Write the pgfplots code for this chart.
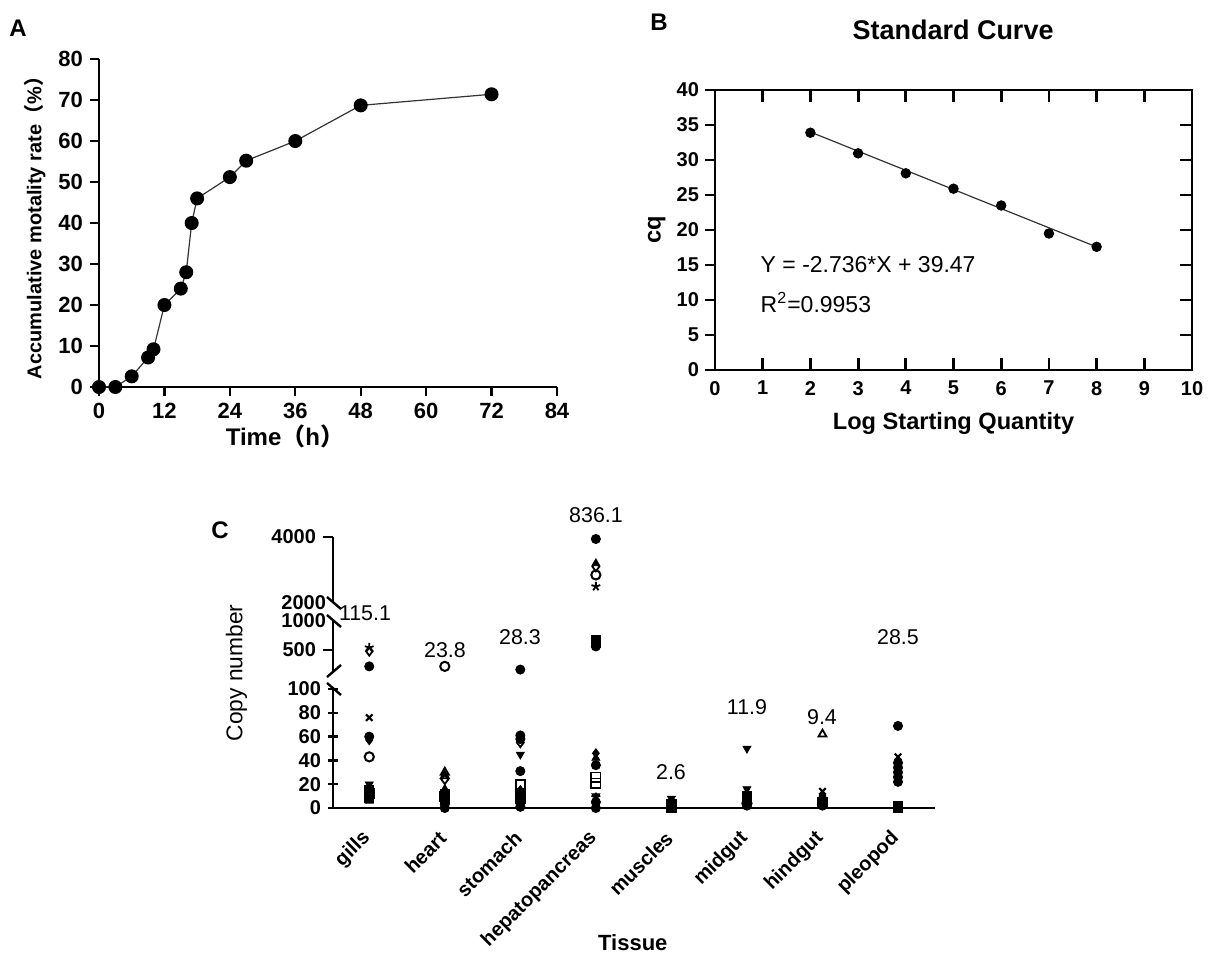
\documentclass[border=0pt]{standalone}
\usepackage{fontspec}
\setmainfont{Liberation Sans}
\newfontfamily\cjk{Noto Sans CJK SC}
\usepackage{pgfplots}
\usepackage{pgfplotstable}
\pgfplotsset{compat=1.18}

% panel C data, one table per marker kind (x = tissue index)
\pgfplotstableread{
x y
0 215
0 60
1 3
1 0
2 160
2 61
2 58
2 31
2 1
3 3940
3 560
3 36
3 5
3 0
4 1
5 2
6 2
7 69
7 38
7 34
7 30
7 26
7 22
}\tFC
\pgfplotstableread{
x y
0 15
0 9
1 12
1 8
2 12
2 8
3 680
3 620
4 3
4 0
5 10
5 6
6 5
7 2
7 0
}\tFS
\pgfplotstableread{
x y
0 6
1 16
2 5
3 3200
3 42
4 5
5 12
6 8
}\tTU
\pgfplotstableread{
x y
0 20
2 45
3 10
4 8
5 50
5 16
7 36
}\tTD
\pgfplotstableread{
x y
0 57
1 14
2 15
3 46
4 2
6 10
7 32
}\tDI
\pgfplotstableread{
x y
0 43
1 215
3 2850
5 4
}\tOC
\pgfplotstableread{
x y
0 12
1 10
2 20
3 26
3 21
}\tOS
\pgfplotstableread{
x y
1 30
1 27
2 10
6 62
}\tOT
\pgfplotstableread{
x y
0 480
1 24
2 55
3 3100
}\tOD
\pgfplotstableread{
x y
0 76
3 2
6 14
7 43
}\tXX
\pgfplotstableread{
x y
0 540
3 2500
3 9
}\tST

\newcommand\cplots{%
  \addplot[only marks, mark=*] table {\tFC};
  \addplot[only marks, mark=square*] table {\tFS};
  \addplot[only marks, mark=triangle*] table {\tTU};
  \addplot[only marks, mark=triangle*, mark options={rotate=180}] table {\tTD};
  \addplot[only marks, mark=diamond*] table {\tDI};
  \addplot[only marks, mark=o, mark options={line width=1pt}] table {\tOC};
  \addplot[only marks, mark=square, mark options={line width=0.9pt}] table {\tOS};
  \addplot[only marks, mark=triangle, mark options={line width=0.9pt}] table {\tOT};
  \addplot[only marks, mark=diamond, mark options={line width=0.9pt}] table {\tOD};
  \addplot[only marks, mark=x, mark options={line width=1.1pt}] table {\tXX};
  \addplot[only marks, mark=star, mark options={line width=0.9pt}] table {\tST};
}

\pgfplotsset{
  cseg/.style={
    scale only axis, width=301pt, xmin=-0.48, xmax=7.49,
    clip=false,
    tick style={line width=1.2pt, black}, major tick length=5pt,
    tick align=outside,
    tick label style={font=\fontsize{10}{12}\selectfont\bfseries},
    /pgf/number format/assume math mode=true,
    /pgf/number format/1000 sep={}, scaled y ticks=false,
    every axis plot/.append style={black, mark size=2.3pt},
  },
  cline/.style={axis line style={-, line width=1.2pt}},
}

\begin{document}
\begin{tikzpicture}
\useasboundingbox (0,0) rectangle (607pt,-477pt);

% ---------------- A
\begin{axis}[
  at={(49.5pt,-193.5pt)}, anchor=south west,
  scale only axis, width=229pt, height=164pt,
  xmin=0, xmax=84, ymin=0, ymax=80,
  axis lines=left, axis line style={-, line width=1.1pt},
  tick style={line width=1.1pt, black}, major tick length=4.5pt,
  tick align=outside, clip=false,
  xtick={0,12,...,84}, ytick={0,10,...,80},
  tick label style={font=\fontsize{11}{13}\selectfont\bfseries},
  /pgf/number format/assume math mode=true,
  xlabel={Time{\cjk（}h{\cjk）}},
  ylabel={Accumulative motality rate{\cjk（}\%{\cjk）}},
  xlabel style={at={(axis description cs:0.406,-0.152)}, anchor=center,
    font=\fontsize{12}{14}\selectfont\bfseries},
  ylabel style={at={(axis description cs:-0.14,0.5)}, anchor=center,
    font=\fontsize{10}{12}\selectfont\bfseries},
]
\addplot[color=black!80, line width=0.6pt, mark=*, mark size=3.2pt,
  mark options={fill=black, draw=black}] coordinates {
  (0,0) (3,0) (6,2.6) (9,7.2) (10,9.2) (12,20) (15,24) (16,28)
  (17,40) (18,46) (24,51.2) (27,55.2) (36,60) (48,68.7) (72,71.4)
};
\end{axis}

% ---------------- B
\begin{axis}[
  at={(357.5pt,-185pt)}, anchor=south west,
  scale only axis, width=238.5pt, height=140pt,
  xmin=0, xmax=10, ymin=0, ymax=40,
  xtick={0,...,10}, ytick={0,5,...,40},
  axis line style={line width=1.4pt},
  tick style={line width=1.4pt, black}, major tick length=6pt,
  tick align=inside, xtick pos=both, ytick pos=right,
  yticklabel pos=left, xticklabel pos=bottom,
  tick label style={font=\fontsize{10}{12}\selectfont\bfseries},
  yticklabel style={xshift=-4.5pt},
  xticklabel style={yshift=-2pt},
  /pgf/number format/assume math mode=true,
  title={Standard Curve}, every axis title shift=0pt,
  title style={at={(axis description cs:0.499,1.214)}, anchor=center,
    font=\fontsize{13.5}{15}\selectfont\bfseries},
  xlabel={Log Starting Quantity}, ylabel={cq},
  xlabel style={at={(axis description cs:0.5,-0.19)}, anchor=center,
    font=\fontsize{11.8}{14}\selectfont\bfseries},
  ylabel style={at={(axis description cs:-0.122,0.5)}, anchor=center,
    font=\fontsize{11.8}{14}\selectfont\bfseries},
  clip=false,
]
\addplot[black!80, line width=0.6pt] coordinates {(2,34.0) (8,17.58)};
\addplot[only marks, mark=*, mark size=2.4pt, black] coordinates {
  (2,33.9) (3,30.95) (4,28.1) (5,25.9) (6,23.5) (7,19.5) (8,17.6)
};
\node[anchor=west, font=\fontsize{11.5}{13}\selectfont, inner sep=0pt]
  at (axis cs:0.95,15.1) {Y = -2.736*X + 39.47};
\node[anchor=west, font=\fontsize{11.5}{13}\selectfont, inner sep=0pt]
  at (axis cs:0.95,9.6) {R\textsuperscript{2}=0.9953};
\end{axis}
% left outward ticks of B
\begin{axis}[
  at={(357.5pt,-185pt)}, anchor=south west,
  scale only axis, width=238.5pt, height=140pt,
  xmin=0, xmax=10, ymin=0, ymax=40,
  axis x line=none, axis y line*=left, ytick={0,5,...,40},
  axis line style={-, line width=1.4pt},
  tick style={line width=1.4pt, black}, major tick length=5pt,
  tick align=outside, yticklabels={},
]
\end{axis}

% ---------------- C, bottom segment 0..100
\begin{axis}[cseg,
  at={(166.5pt,-404pt)}, anchor=south west, height=59.5pt,
  ymin=0, ymax=100, ytick={0,20,...,100},
  axis lines=left, cline, restrict y to domain=0:100,
  xtick={0,...,7}, x tick style={draw=none}, xticklabel shift=10pt,
  xticklabels={gills,heart,stomach,hepatopancreas,muscles,midgut,hindgut,pleopod},
  xticklabel style={rotate=45, anchor=east, xshift=2pt,
    font=\fontsize{10}{12}\selectfont\bfseries},
  xlabel={Tissue},
  xlabel style={at={(axis description cs:0.498,-1.134)}, anchor=center,
    font=\fontsize{11}{13}\selectfont\bfseries},
]
\cplots
\draw[line width=1.2pt] (axis description cs:0,1) ++(-3pt,3pt) -- ++(7pt,-6pt);
\end{axis}
% middle segment 100..1000
\begin{axis}[cseg,
  at={(166.5pt,-336.5pt)}, anchor=south west, height=26pt,
  ymin=100, ymax=1000, ytick={500}, extra y ticks={1000},
  extra y tick style={major tick length=0pt},
  axis x line=none, axis y line*=left, cline, restrict y to domain=100:1000,
]
\cplots
\draw[line width=1.2pt] (axis description cs:0,0) ++(-3pt,-2pt) -- ++(7pt,6pt);
\draw[line width=1.2pt] (axis description cs:0,1) ++(-3pt,3pt) -- ++(7pt,-6pt);
\end{axis}
% top segment 2000..4000
\begin{axis}[cseg,
  at={(166.5pt,-301.5pt)}, anchor=south west, height=33pt,
  ymin=2000, ymax=4000, ytick={4000}, extra y ticks={2000},
  extra y tick style={major tick length=0pt},
  axis x line=none, axis y line*=left, cline, restrict y to domain=2000:4000,
]
\cplots
\draw[line width=1.2pt] (axis description cs:0,0) ++(-3pt,3pt) -- ++(7pt,-6pt);
\end{axis}

% panel letters and C annotations
\node[font=\fontsize{12}{14}\selectfont\bfseries] at (9pt,-14pt) {A};
\node[font=\fontsize{12}{14}\selectfont\bfseries] at (329.5pt,-11pt) {B};
\node[font=\fontsize{12}{14}\selectfont\bfseries] at (110pt,-265pt) {C};
\node[rotate=90, font=\fontsize{11.4}{13}\selectfont] at (118.3pt,-336.5pt) {Copy number};
\begin{scope}[every node/.style={font=\fontsize{10.7}{12}\selectfont}]
\node at (182.5pt,-306.5pt) {115.1};
\node at (222.5pt,-325pt) {23.8};
\node at (260pt,-318.5pt) {28.3};
\node at (298pt,-257.5pt) {836.1};
\node at (335.5pt,-386pt) {2.6};
\node at (373.5pt,-353.5pt) {11.9};
\node at (411pt,-358.5pt) {9.4};
\node at (449pt,-318.5pt) {28.5};
\end{scope}
\end{tikzpicture}
\end{document}
